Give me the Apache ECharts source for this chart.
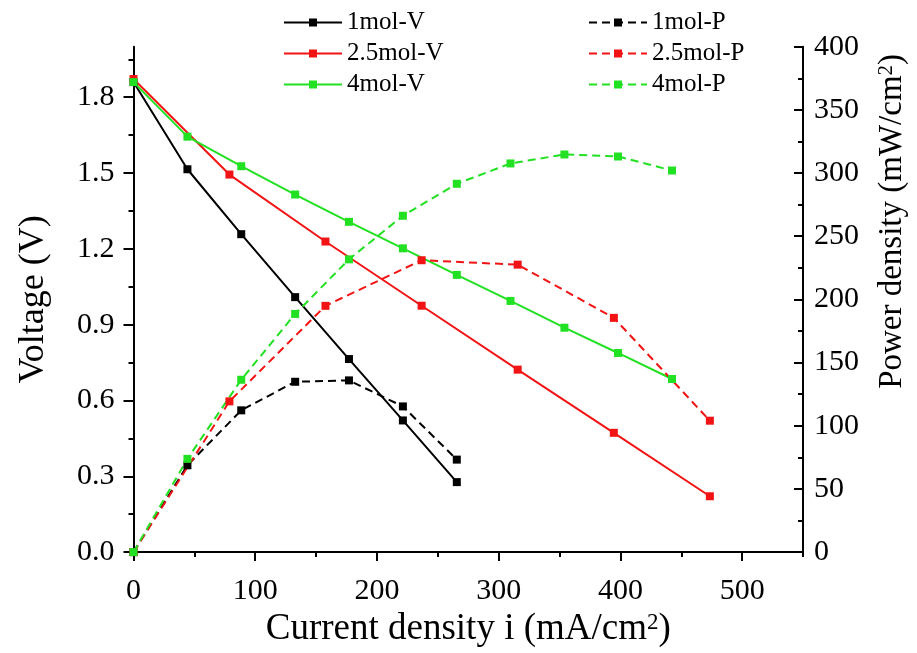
<!DOCTYPE html>
<html>
<head>
<meta charset="utf-8">
<script src="https://cdn.jsdelivr.net/npm/echarts@6/dist/echarts.min.js"></script>
<style>html,body{margin:0;padding:0;background:#fff}#c{width:917px;height:653px}</style>
</head>
<body>
<div id="c"></div>
<script>
// ---- data ----
var x1mol = [0, 44.3, 88.5, 132.8, 177, 221.3, 265.6];
var v1mol = [1.86, 1.515, 1.258, 1.009, 0.764, 0.521, 0.277];
var p1mol = [0, 68.7, 112.2, 134.8, 135.9, 115.3, 73.2];

var x25mol = [0, 78.8, 157.7, 236.7, 315.6, 394.6, 473.5];
var v25mol = [1.872, 1.494, 1.229, 0.975, 0.722, 0.472, 0.221];
var p25mol = [0, 119.3, 194.9, 231, 227.5, 185.4, 104];

var x4mol = [0, 44.3, 88.5, 132.8, 177, 221.3, 265.6, 309.7, 354, 398, 442.4];
var v4mol = [1.86, 1.644, 1.527, 1.415, 1.307, 1.202, 1.097, 0.994, 0.888, 0.788, 0.685];
var p4mol = [0, 73.8, 136.4, 188.5, 231.7, 266.2, 291.5, 307.6, 314.7, 313.1, 302];

var xTicks = [0, 100, 200, 300, 400, 500];
var xMinorTicks = [50, 150, 250, 350, 450, 550];
var vTicks = [0, 0.3, 0.6, 0.9, 1.2, 1.5, 1.8];
var vMinorTicks = [0.15, 0.45, 0.75, 1.05, 1.35, 1.65, 1.95];
var pTicks = [0, 50, 100, 150, 200, 250, 300, 350, 400];
var pMinorTicks = [25, 75, 125, 175, 225, 275, 325, 375];

var names = ['1mol-V', '2.5mol-V', '4mol-V', '1mol-P', '2.5mol-P', '4mol-P'];

function pairs(xs, ys) { return xs.map(function (x, i) { return [x, ys[i]]; }); }

var FONT = 'Liberation Serif';
var BLACK = '#000000', RED = '#f21414', GREEN = '#22e022';

function lineSeries(name, data, color, yIdx, dashed) {
  return {
    name: name, type: 'line', data: data, xAxisIndex: 0, yAxisIndex: yIdx,
    symbol: 'rect', symbolSize: 8, showAllSymbol: true,
    itemStyle: { color: color },
    lineStyle: { color: color, width: 2, type: dashed ? [8, 5] : 'solid' },
    emphasis: { disabled: true }
  };
}

var axisLineStyle = { show: true, onZero: false, lineStyle: { color: '#000', width: 2 } };
var noLine = { show: false, onZero: false };
var tickStyle = { color: '#000', width: 2 };
var labelStyle = { color: '#000', fontFamily: FONT, fontSize: 30 };
var legendText = { fontFamily: FONT, fontSize: 25, color: '#000', lineHeight: 25 };

var chart = echarts.init(document.getElementById('c'), null, { renderer: 'canvas' });
chart.setOption({
  animation: false,
  backgroundColor: '#fff',
  grid: { left: 133.5, right: 106.3, top: 46.7, bottom: 100.3, containLabel: false },
  legend: [
    {
      data: names.slice(0, 3), orient: 'vertical', left: 283, top: 10, padding: 0,
      itemWidth: 58, itemHeight: 10, itemGap: 6,
      textStyle: legendText, selectedMode: false
    },
    {
      data: names.slice(3), orient: 'vertical', left: 588, top: 10, padding: 0,
      itemWidth: 58, itemHeight: 10, itemGap: 6,
      textStyle: legendText, selectedMode: false
    }
  ],
  xAxis: [
    {
      type: 'value', min: 0, max: 550, position: 'bottom',
      name: 'Current density i (mA/cm{sup|2})', nameLocation: 'middle', nameGap: 56,
      nameTextStyle: { fontFamily: FONT, fontSize: 37, color: '#000',
        rich: { sup: { fontFamily: FONT, fontSize: 23, color: '#000', verticalAlign: 'top' } } },
      axisLine: axisLineStyle,
      axisTick: { show: true, inside: false, length: 9, lineStyle: tickStyle, customValues: xTicks },
      axisLabel: Object.assign({ margin: 24, customValues: xTicks }, labelStyle),
      splitLine: { show: false }
    },
    {
      type: 'value', min: 0, max: 550, position: 'bottom', gridIndex: 0,
      axisLine: noLine,
      axisTick: { show: true, inside: false, length: 5, lineStyle: tickStyle, customValues: xMinorTicks },
      axisLabel: { show: false },
      splitLine: { show: false }
    }
  ],
  yAxis: [
    {
      type: 'value', min: 0, max: 2.0, position: 'left',
      name: 'Voltage (V)', nameLocation: 'middle', nameGap: 82, nameRotate: 90,
      nameTextStyle: { fontFamily: FONT, fontSize: 36, color: '#000' },
      axisLine: axisLineStyle,
      axisTick: { show: true, inside: false, length: 10, lineStyle: tickStyle, customValues: vTicks },
      axisLabel: Object.assign({ margin: 19, customValues: vTicks,
        formatter: function (v) { return v.toFixed(1); } }, labelStyle),
      splitLine: { show: false }
    },
    {
      type: 'value', min: 0, max: 400, position: 'right',
      name: 'Power density (mW/cm{sup|2})', nameLocation: 'middle', nameGap: 73, nameRotate: 90,
      nameTextStyle: { fontFamily: FONT, fontSize: 33, color: '#000', padding: [0, 0, 0, 156],
        rich: { sup: { fontFamily: FONT, fontSize: 21, color: '#000', verticalAlign: 'top' } } },
      axisLine: axisLineStyle,
      axisTick: { show: true, inside: true, length: 9, lineStyle: tickStyle, customValues: pTicks },
      axisLabel: Object.assign({ margin: 11, customValues: pTicks }, labelStyle),
      splitLine: { show: false }
    },
    {
      type: 'value', min: 0, max: 2.0, position: 'left', gridIndex: 0,
      axisLine: noLine,
      axisTick: { show: true, inside: false, length: 5, lineStyle: tickStyle, customValues: vMinorTicks },
      axisLabel: { show: false },
      splitLine: { show: false }
    },
    {
      type: 'value', min: 0, max: 400, position: 'right', gridIndex: 0,
      axisLine: noLine,
      axisTick: { show: true, inside: true, length: 5, lineStyle: tickStyle, customValues: pMinorTicks },
      axisLabel: { show: false },
      splitLine: { show: false }
    }
  ],
  series: [
    lineSeries(names[0], pairs(x1mol, v1mol), BLACK, 0, false),
    lineSeries(names[1], pairs(x25mol, v25mol), RED, 0, false),
    lineSeries(names[2], pairs(x4mol, v4mol), GREEN, 0, false),
    lineSeries(names[3], pairs(x1mol, p1mol), BLACK, 1, true),
    lineSeries(names[4], pairs(x25mol, p25mol), RED, 1, true),
    lineSeries(names[5], pairs(x4mol, p4mol), GREEN, 1, true)
  ]
});
</script>
</body>
</html>
